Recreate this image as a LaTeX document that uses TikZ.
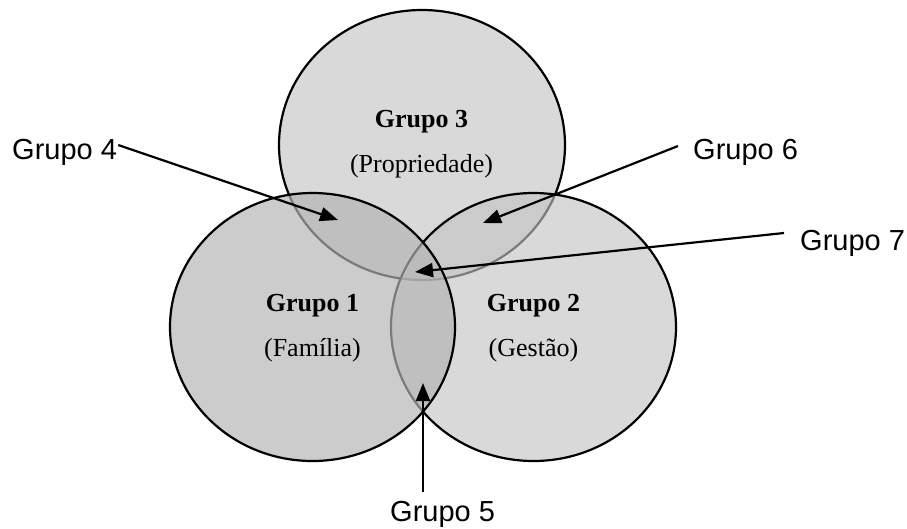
\documentclass[tikz,border=0pt]{standalone}
\usepackage{fontspec}
\setmainfont{Liberation Serif}
\setsansfont{Liberation Sans}
\usetikzlibrary{arrows.meta,calc,shapes.geometric}
\definecolor{cthree}{gray}{0.851}
\definecolor{ctwo}{gray}{0.7635}
\definecolor{cone}{gray}{0.7075}
\begin{document}
\begin{tikzpicture}[x=1pt,y=-1pt,
  ring/.style={ellipse, draw=black, line width=2.2pt, inner sep=0pt},
  serifr/.style={font=\fontsize{26}{26}\selectfont, inner sep=0pt, anchor=base},
  serifb/.style={font=\fontsize{26}{26}\selectfont\bfseries, inner sep=0pt, anchor=base},
  lbl/.style={font=\sffamily\fontsize{29}{29}\selectfont, inner sep=0pt, anchor=base west},
  arr/.style={line width=2.2pt, -{Triangle[length=18pt,width=14pt]}}]
\useasboundingbox (0,0) rectangle (907,528);
% circles
\node[ring, fill=cthree, minimum width=286pt, minimum height=270pt] (c3) at (422,145) {};
\node[ring, fill=ctwo, fill opacity=0.63, minimum width=285pt, minimum height=268pt] (c2) at (533.5,327) {};
\node[ring, fill=cone, fill opacity=0.684, minimum width=285pt, minimum height=268pt] (c1) at (312.5,327) {};
% circle texts
\node[serifb] (t3) at (421.5,127.3) {Grupo 3};
\node[serifr] (p3) at (421.5,172) {(Propriedade)};
\node[serifb] (t1) at (312.5,311.7) {Grupo 1};
\node[serifr] (p1) at (312.5,356) {(Família)};
\node[serifb] (t2) at (533.5,311.7) {Grupo 2};
\node[serifr] (p2) at (533.5,356) {(Gestão)};
% outside labels
\node[lbl] (g4) at (12,159) {Grupo 4};
\node[lbl] (g6) at (693,159) {Grupo 6};
\node[lbl] (g7) at (800,250.7) {Grupo 7};
\node[lbl] (g5) at (390,521.7) {Grupo 5};
% arrow tips
\coordinate (a4) at (338,220);
\coordinate (a6) at (483,223);
\coordinate (a7) at (415,272);
\coordinate (a5) at (423,383);
% arrows
\draw[arr] ([xshift=1pt,yshift=14pt]g4.base east) -- (a4);
\draw[arr] ([xshift=-15pt,yshift=13pt]g6.base west) -- (a6);
\draw[arr] ([xshift=-16pt,yshift=17.7pt]g7.base west) -- (a7);
\draw[arr] ($(a5 |- g5.north)+(0,-9)$) -- (a5);
\end{tikzpicture}
\end{document}
